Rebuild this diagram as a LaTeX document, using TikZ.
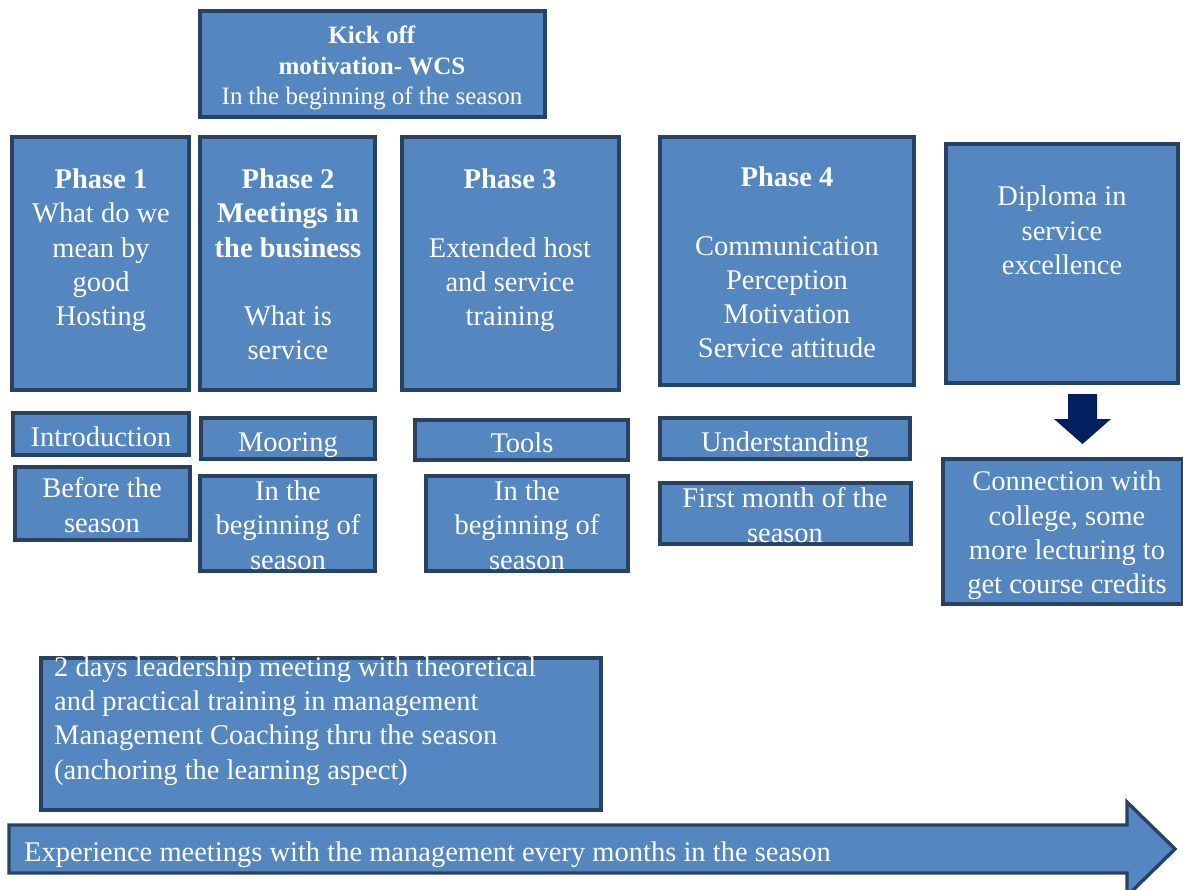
\documentclass[tikz,border=0pt]{standalone}
\usepackage{fontspec}
\setmainfont{Liberation Serif}
\usetikzlibrary{fit}
\definecolor{boxblue}{RGB}{84,134,192}
\definecolor{bord}{RGB}{40,66,100}
\definecolor{navy}{RGB}{0,32,96}
\tikzset{
  bx/.style={draw=bord, fill=boxblue, line width=3.4pt, inner sep=0pt, rectangle},
  tx/.style={text=white, font=\fontsize{28.5}{34.3}\selectfont, align=center, inner sep=0pt,
    execute at begin node=\strut, execute at end node=\strut},
  txs/.style={tx, font=\fontsize{25}{30.5}\selectfont},
}
\begin{document}
\begin{tikzpicture}[x=1pt,y=-1pt]
\useasboundingbox (0,0) rectangle (1183,890);
% boxes
\node[bx, fit={(200,11) (545,117)}] (kick) {};
\node[bx, fit={(12,137) (189,390)}] (p1) {};
\node[bx, fit={(200,137) (375,390)}] (p2) {};
\node[bx, fit={(402,137) (619,390)}] (p3) {};
\node[bx, fit={(660,137) (914,385)}] (p4) {};
\node[bx, fit={(946,144) (1178,383)}] (dip) {};
\node[bx, fit={(13,413) (189,455)}] (intro) {};
\node[bx, fit={(15,467) (190,540)}] (before) {};
\node[bx, fit={(201,418) (375,459)}] (moor) {};
\node[bx, fit={(200,476) (375,571)}] (ib2) {};
\node[bx, fit={(415,420) (628,460)}] (tools) {};
\node[bx, fit={(426,476) (628,571)}] (ib3) {};
\node[bx, fit={(660,418) (910,459)}] (under) {};
\node[bx, fit={(660,483) (911,544)}] (first) {};
\node[bx, fit={(943,459) (1183,604)}] (conn) {};
\node[bx, fit={(41,658) (601,810)}] (lead) {};
% big arrow
\draw[bx] (9,825) -- (1127,825) -- (1127,802) -- (1175,849) -- (1127,896) -- (1127,873) -- (9,873) -- cycle;
% down arrow between diploma and connection
\fill[navy] (1068,394) -- (1097,394) -- (1097,419) -- (1111,419) -- (1082.5,444) -- (1054,419) -- (1068,419) -- cycle;
% texts
\node[txs] (tkick) at (372,70) {\textbf{Kick off}\\\textbf{motivation- WCS}\\In the beginning of the season};
\node[tx] (tp1) at (101,252.5) {\textbf{Phase 1}\\What do we\\mean by\\good\\Hosting};
\node[tx] (tp2) at (288,269.5) {\textbf{Phase 2}\\\textbf{Meetings in}\\\textbf{the business}\\~\\What is\\service};
\node[tx] (tp3) at (510,252.5) {\textbf{Phase 3}\\~\\Extended host\\and service\\training};
\node[tx] (tp4) at (787,267.5) {\textbf{Phase 4}\\~\\Communication\\Perception\\Motivation\\Service attitude};
\node[tx] (tdip) at (1062,235.5) {Diploma in\\service\\excellence};
\node[tx] (tintro) at (101,440) {Introduction};
\node[tx] (tbefore) at (102,510) {Before the\\season};
\node[tx] (tmoor) at (288,445) {Mooring};
\node[tx] (tib2) at (288,530) {In the\\beginning of\\season};
\node[tx] (ttools) at (522,446) {Tools};
\node[tx] (tib3) at (527,530) {In the\\beginning of\\season};
\node[tx] (tunder) at (785,445) {Understanding};
\node[tx] (tfirst) at (785,520) {First month of the\\season};
\node[tx] (tconn) at (1067,537.5) {Connection with\\college, some\\more lecturing to\\get course credits};
\node[tx, align=left, anchor=west] (tlead) at (54,723) {2 days leadership meeting with theoretical\\and practical training in management\\Management Coaching thru the season\\(anchoring the learning aspect)};
\node[tx, anchor=west] (tarrow) at (24,855) {Experience meetings with the management every months in the season};
\end{tikzpicture}
\end{document}
